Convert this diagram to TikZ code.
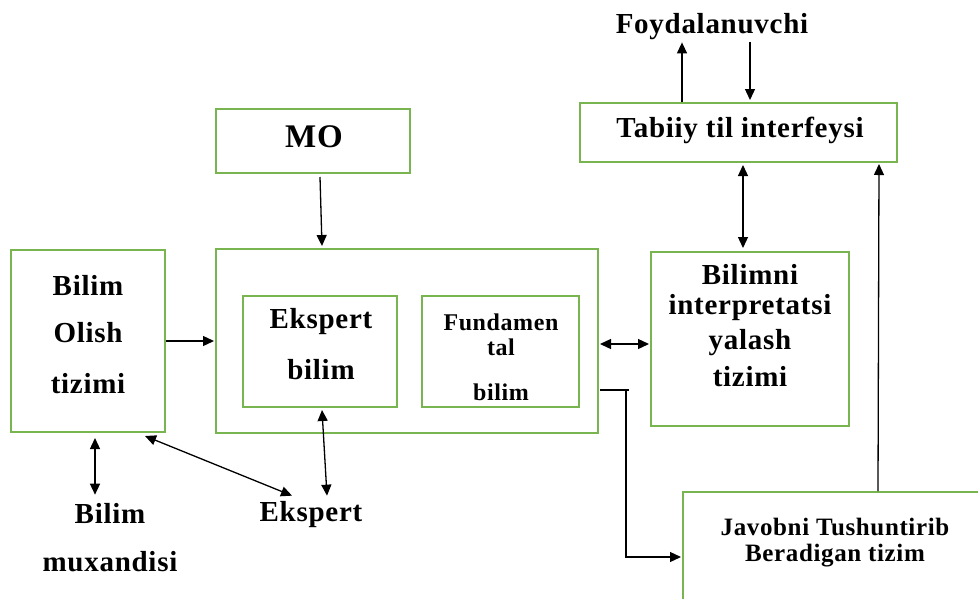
\documentclass[tikz,border=0pt]{standalone}
\usepackage{fontspec}
\setmainfont{Liberation Serif}
\newfontfamily\spacedfont[LetterSpace=2.5]{Liberation Serif}
\usetikzlibrary{arrows.meta}
\definecolor{boxgreen}{RGB}{120,180,80}
\begin{document}
\begin{tikzpicture}[x=1pt,y=-1pt,
  box/.style={draw=boxgreen,line width=2pt,inner sep=0pt},
  tb/.style={inner sep=0pt,font=\spacedfont\fontsize{29}{32}\bfseries\selectfont},
  ts/.style={inner sep=0pt,font=\spacedfont\fontsize{24}{27}\bfseries\selectfont},
  tj/.style={inner sep=0pt,font=\spacedfont\fontsize{25}{28}\bfseries\selectfont},
  arr/.style={line width=1.3pt,-{Triangle[length=11pt,width=10pt]}},
  darr/.style={line width=1.3pt,{Triangle[length=11pt,width=10pt]}-{Triangle[length=11pt,width=10pt]}},
  plain/.style={line width=1.3pt}]
\useasboundingbox (0,0) rectangle (978,598);
\clip (0,0) rectangle (978,598);
% boxes
\node[box,minimum width=194pt,minimum height=64pt] (mo) at (313,141) {};
\node[box,minimum width=317pt,minimum height=59pt] (tab) at (738.5,132.5) {};
\node[box,minimum width=382pt,minimum height=184pt] (big) at (407,341) {};
\node[box,minimum width=154pt,minimum height=111pt] (eb) at (320,351.5) {};
\node[box,minimum width=157pt,minimum height=111pt] (fb) at (500.5,351.5) {};
\node[box,minimum width=154pt,minimum height=182pt] (bo) at (88,341) {};
\node[box,minimum width=198pt,minimum height=174pt] (bi) at (750,339) {};
\node[box,minimum width=330pt,minimum height=130pt,anchor=north west] (jav) at (682,491) {};
% texts
\node[tb] (foyd) at (712,27) {Foydalanuvchi};
\node[tb] (tabt) at (740,130) {Tabiiy til interfeysi};
\node[tb,font=\spacedfont\fontsize{33}{36}\bfseries\selectfont] (mot) at (314,137) {MO};
\node[tb] (bo1) at (88,285) {Bilim};
\node[tb] (bo2) at (88,333) {Olish};
\node[tb] (bo3) at (88,384) {tizimi};
\node[tb] (eb1) at (321,322) {Ekspert};
\node[tb] (eb2) at (321,370) {bilim};
\node[ts] (fb1) at (501,322) {Fundamen};
\node[ts] (fb2) at (501,347) {tal};
\node[ts] (fb3) at (501,392) {bilim};
\node[tb] (bi1) at (750,274) {Bilimni};
\node[tb] (bi2) at (750,308) {interpretatsi};
\node[tb] (bi3) at (750,343) {yalash};
\node[tb] (bi4) at (750,377) {tizimi};
\node[tj] (jv1) at (835,527) {Javobni Tushuntirib};
\node[tj] (jv2) at (835,556) {Beradigan tizim};
\node[tb] (bm) at (110,513) {Bilim};
\node[tb] (mux) at (110,562) {muxandisi};
\node[tb] (ek) at (311,515) {Ekspert};
% connectors
\draw[arr] ([xshift=-56.5pt]tab.north) -- ([xshift=-30pt,yshift=-2pt]foyd.south);
\draw[arr] ([xshift=38pt,yshift=-2pt]foyd.south) -- ([xshift=11.5pt,yshift=2pt]tab.north);
\draw[arr] ([xshift=7pt,yshift=-3pt]mo.south) -- ([xshift=-85pt,yshift=2pt]big.north);
\draw[arr] (bo.east) -- ([xshift=-1pt]big.west);
\draw[darr] ([xshift=1pt,yshift=-3pt]big.east) -- ([xshift=-1pt,yshift=-5pt]bi.west);
\draw[darr] ([xshift=4.5pt,yshift=-2pt]tab.south) -- ([xshift=-7pt,yshift=3pt]bi.north);
\draw[arr] ([xshift=196pt]jav.north west) -- ([xshift=-19pt,yshift=-1pt]tab.south east);
\draw[plain] ([xshift=1pt,yshift=-49pt]big.east) -- ++(29,0);
\coordinate (k) at ([xshift=27pt,yshift=-49pt]big.east);
\draw[arr] (k) |- ([xshift=-1pt,yshift=-66pt]jav.north west);
\draw[darr] ([xshift=7pt,yshift=-5pt]bo.south) -- ([xshift=-15pt,yshift=8pt]bm.north);
\draw[darr] ([xshift=57pt,yshift=-3pt]bo.south) -- ([xshift=-19pt,yshift=6pt]ek.north);
\draw[darr] ([xshift=2pt,yshift=-2pt]eb.south) -- ([xshift=16pt,yshift=6pt]ek.north);
\end{tikzpicture}
\end{document}
